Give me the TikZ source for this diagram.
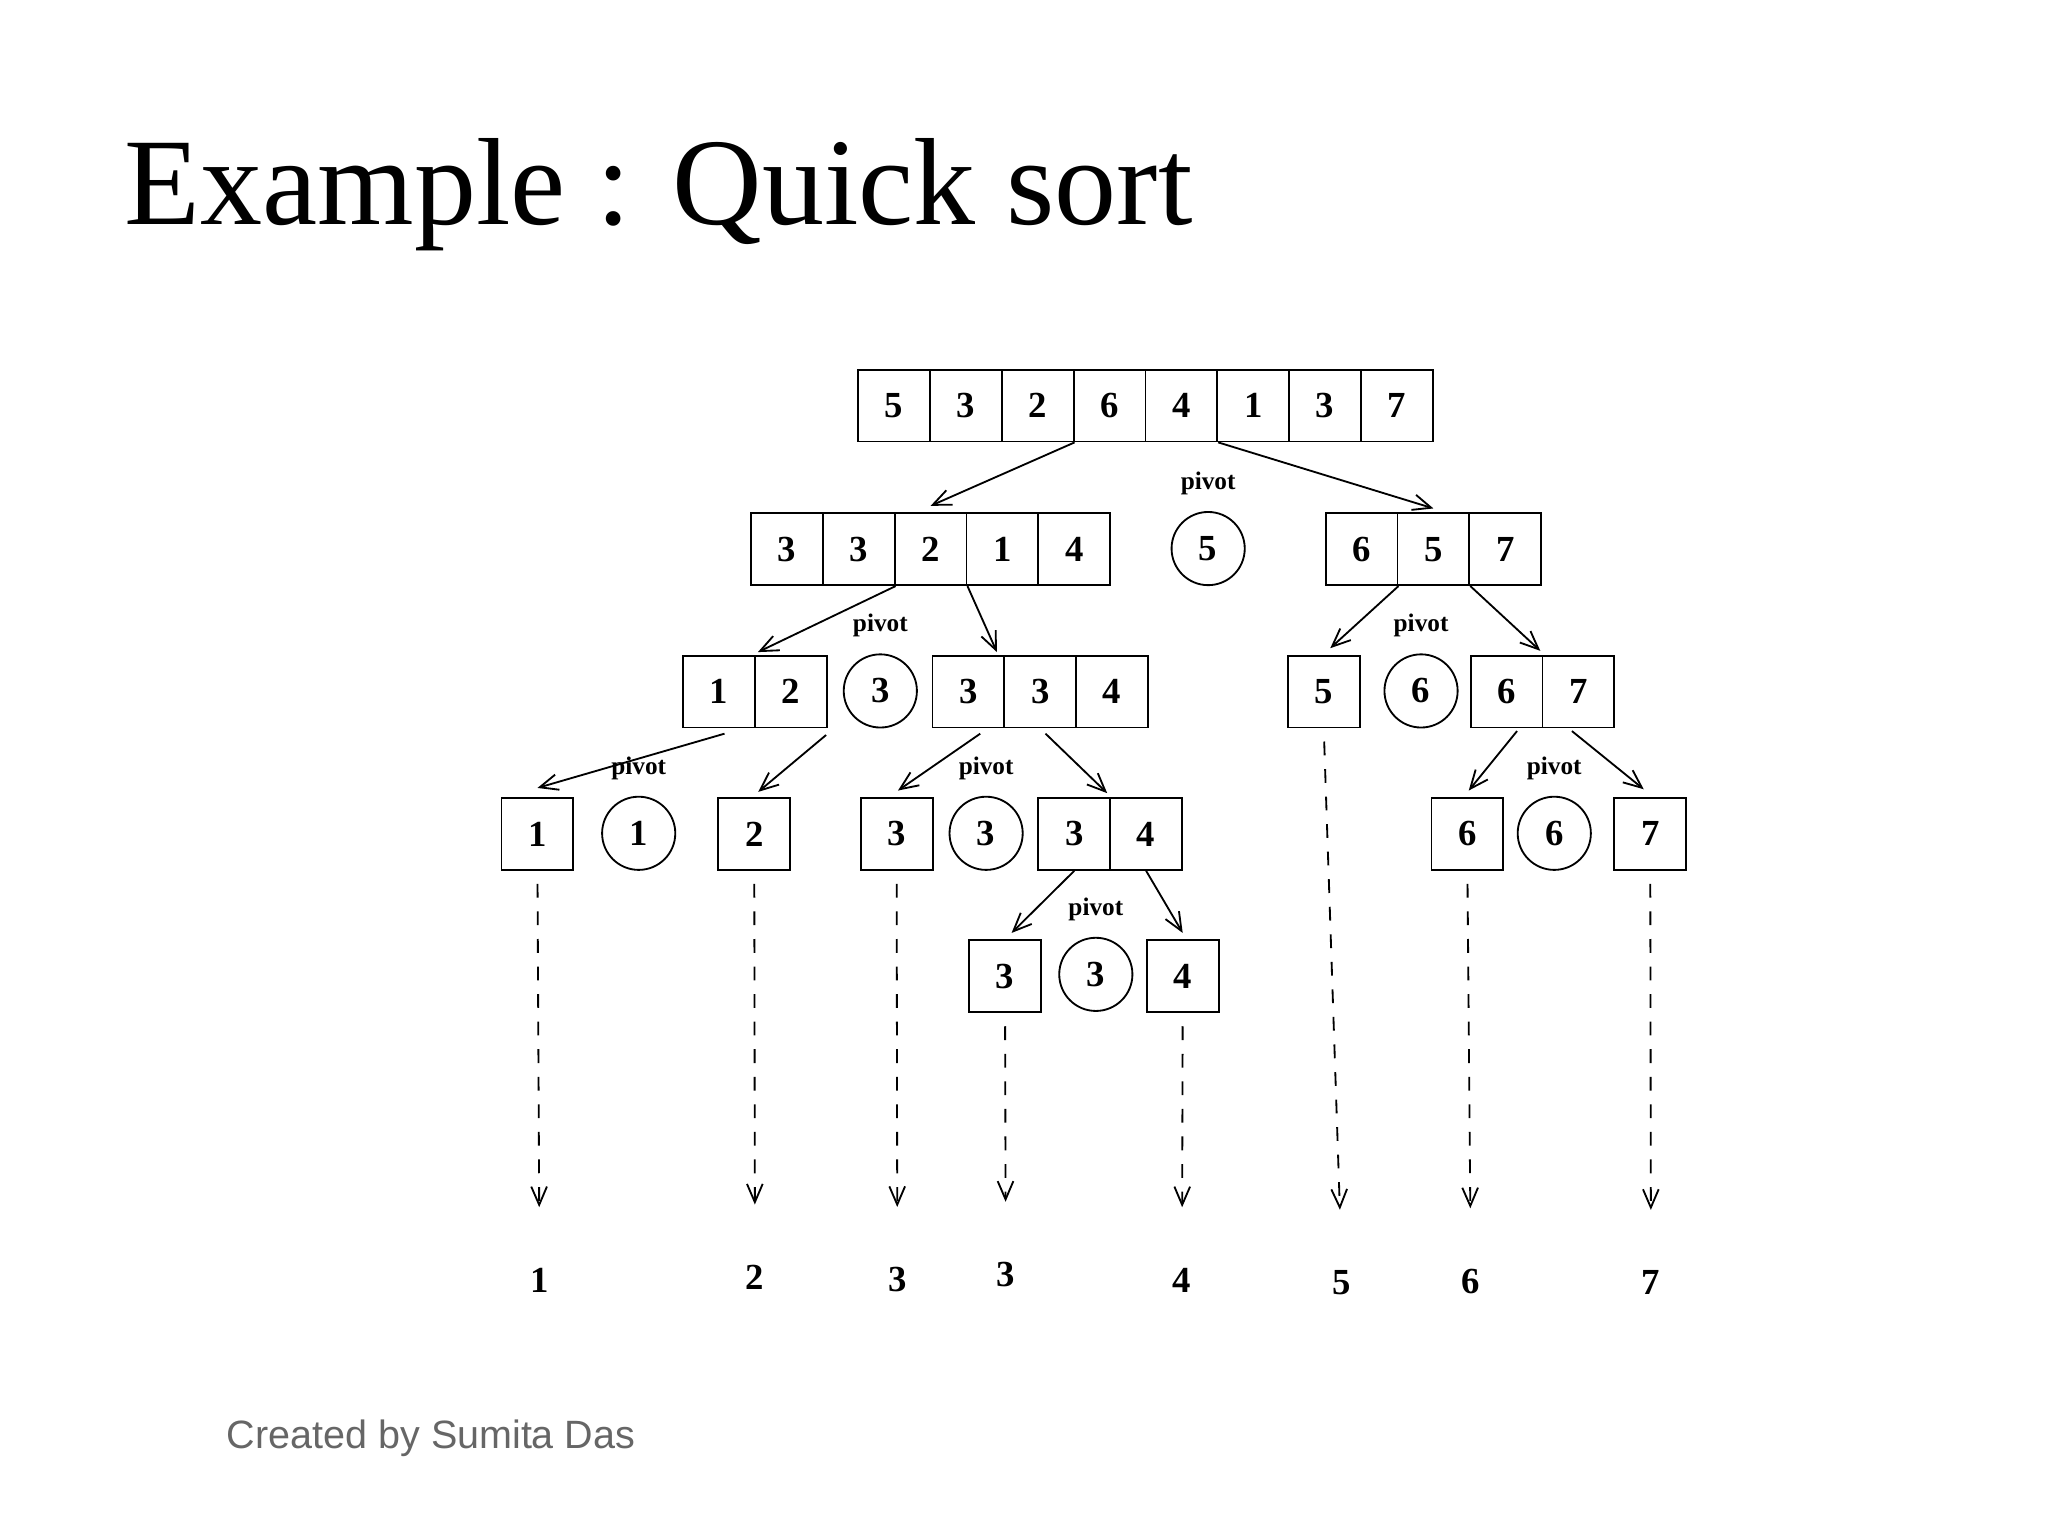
\documentclass[tikz,border=0pt]{standalone}
\usepackage{fontspec}
\setmainfont{Liberation Serif}
\setsansfont{Liberation Sans}
\usetikzlibrary{arrows.meta}
\tikzset{cell/.style={draw, thin, minimum size=0.55cm, inner sep=0pt, font=\fontsize{8}{9}\selectfont\bfseries},
  pivotc/.style={draw, thin, circle, minimum size=0.56cm, inner sep=0pt, font=\fontsize{8}{9}\selectfont\bfseries},
  lbl/.style={font=\fontsize{5.5}{6}\selectfont\bfseries, label distance=0pt},
  split/.style={thin, -{Straight Barb[length=1.4mm,width=1.2mm]}},
  fall/.style={thin, dashed, -{Straight Barb[length=1.4mm,width=1.2mm]}, shorten <=0.1cm, shorten >=0.34cm},
  final/.style={font=\fontsize{8}{9}\selectfont\bfseries}}
\newcommand{\cellrow}[4]{%
  \foreach \d [count=\i] in {#4}
    \node[cell] (#1-\i) at (#2+55*\i-27.5, #3+27.5) {\d};}

\begin{document}
\begin{tikzpicture}[x=0.01cm, y=-0.01cm]
  \useasboundingbox (0,0) rectangle (1568,1176);
  \node[anchor=base west, font=\fontsize{27}{30}\selectfont, inner sep=0pt] (title) at (95,172) {Example : Quick sort};
  \node[anchor=base west, font=\sffamily\fontsize{8.6}{10}\selectfont, text=black!60, inner sep=0pt] (credit) at (173,1109) {Created by Sumita Das};

  % level 1
  \cellrow{r1}{657}{283}{5,3,2,6,4,1,3,7}
  % level 2
  \cellrow{a}{575}{393}{3,3,2,1,4}
  \node[pivotc, label={[lbl]above:pivot}] (p1) at (925,420) {5};
  \cellrow{b}{1015}{393}{6,5,7}
  % level 3
  \cellrow{c}{523}{502}{1,2}
  \node[pivotc, label={[lbl]above:pivot}] (p2) at (674,529) {3};
  \cellrow{d}{714}{502}{3,3,4}
  \cellrow{e}{986}{502}{5}
  \node[pivotc, label={[lbl]above:pivot}] (p3) at (1088,529) {6};
  \cellrow{f}{1126}{502}{6,7}
  % level 4
  \cellrow{g}{384}{611}{1}
  \node[pivotc, label={[lbl]above:pivot}] (p4) at (489,638) {1};
  \cellrow{h}{550}{611}{2}
  \cellrow{k}{659}{611}{3}
  \node[pivotc, label={[lbl]above:pivot}] (p5) at (755,638) {3};
  \cellrow{m}{795}{611}{3,4}
  \cellrow{n}{1096}{611}{6}
  \node[pivotc, label={[lbl]above:pivot}] (p6) at (1190,638) {6};
  \cellrow{q}{1236}{611}{7}
  % level 5
  \cellrow{s}{742}{720}{3}
  \node[pivotc, label={[lbl]above:pivot}] (p7) at (839,746) {3};
  \cellrow{t}{878}{720}{4}

  % splits
  \draw[split] (r1-3.south east) -- ([yshift=0.05cm]a-3.north);
  \draw[split] (r1-5.south east) -- ([yshift=0.03cm]b-2.north);
  \draw[split] (a-2.south east) -- ([xshift=0.03cm,yshift=0.02cm]c-2.north west);
  \draw[split] (a-3.south east) -- ([xshift=-0.05cm,yshift=0.02cm]d-2.north west);
  \draw[split] (b-1.south east) -- ([xshift=0.05cm,yshift=0.05cm]e-1.north);
  \draw[split] (b-2.south east) -- ([xshift=-0.01cm,yshift=0.03cm]f-2.north west);
  \draw[split] ([xshift=-0.24cm,yshift=-0.04cm]c-1.south east) -- ([yshift=0.07cm]g-1.north);
  \draw[split] ([xshift=0.27cm,yshift=-0.05cm]c-2.south) -- ([xshift=0.03cm,yshift=0.04cm]h-1.north);
  \draw[split] ([xshift=0.09cm,yshift=-0.04cm]d-1.south) -- ([xshift=0.01cm,yshift=0.05cm]k-1.north);
  \draw[split] ([xshift=0.04cm,yshift=-0.04cm]d-2.south) -- ([xshift=-0.03cm,yshift=0.03cm]m-1.north east);
  \draw[split] ([xshift=0.08cm,yshift=-0.02cm]f-1.south) -- ([xshift=0.01cm,yshift=0.05cm]n-1.north);
  \draw[split] ([xshift=-0.05cm,yshift=-0.02cm]f-2.south) -- ([xshift=-0.05cm,yshift=0.06cm]q-1.north);
  \draw[split] (m-1.south) -- ([xshift=0.05cm,yshift=0.05cm]s-1.north);
  \draw[split] (m-2.south) -- ([yshift=0.05cm]t-1.north);

  % final positions
  \node[final] (z1) at (413,980) {1};
  \node[final] (z2) at (578,978) {2};
  \node[final] (z3) at (687,980) {3};
  \node[final] (z4) at (770,976) {3};
  \node[final] (z5) at (905,980) {4};
  \node[final] (z6) at (1027,982) {5};
  \node[final] (z7) at (1126,981) {6};
  \node[final] (z8) at (1264,982) {7};
  \draw[fall] (g-1.south) -- (z1.north);
  \draw[fall] (h-1.south) -- (z2.north);
  \draw[fall] (k-1.south) -- (z3.north);
  \draw[fall] (s-1.south) -- (z4.north);
  \draw[fall] (t-1.south) -- (z5.north);
  \draw[fall] (e-1.south) -- (z6.north);
  \draw[fall] (n-1.south) -- (z7.north);
  \draw[fall] (q-1.south) -- (z8.north);
\end{tikzpicture}
\end{document}
